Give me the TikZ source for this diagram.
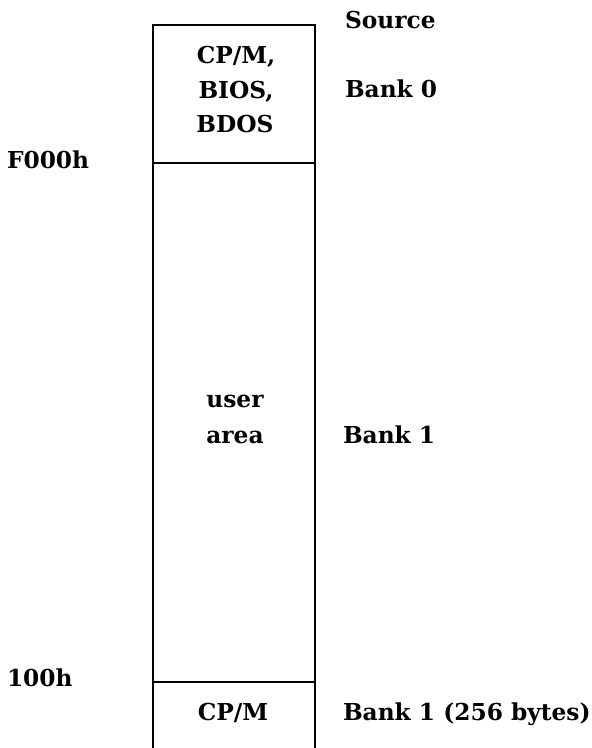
\documentclass[tikz,border=0pt]{standalone}
\usepackage{fontspec}
\setmainfont{DejaVu Serif}
\begin{document}
\begin{tikzpicture}[x=1pt,y=-1pt,
  lbl/.style={font=\fontsize{23.3pt}{28pt}\selectfont\bfseries, inner sep=0pt, outer sep=0pt},
  side/.style={lbl, anchor=base west},
  mid/.style={lbl, anchor=base},
  wall/.style={line width=1.3pt, black}]
\useasboundingbox (0,0) rectangle (592,748);
% memory column
\coordinate (tl) at (153,25);
\coordinate (tr) at (315,25);
\coordinate (bl) at (153,748);
\coordinate (br) at (315,748);
\coordinate (f0l) at (153,163);
\coordinate (f0r) at (315,163);
\coordinate (h1l) at (153,682);
\coordinate (h1r) at (315,682);
\draw[wall] (bl) -- (tl) -- (tr) -- (br);
\draw[wall] (f0l) -- (f0r);
\draw[wall] (h1l) -- (h1r);
% labels inside
\node[mid] (c1) at (236,63) {CP/M,};
\node[mid] (c2) at (236,98) {BIOS,};
\node[mid] (c3) at (235,132) {BDOS};
\node[mid] (u1) at (235,407) {user};
\node[mid] (u2) at (235,443) {area};
\node[mid] (cpm) at (233,720) {CP/M};
% right labels
\node[side] (src) at (345,28) {Source};
\node[side] (b0) at (345,97) {Bank 0};
\node[side] (b1) at (343,443) {Bank 1};
\node[side] (b1b) at (343,720) {Bank 1 (256 bytes)};
% left labels
\node[side] (f000) at (7,168) {F000h};
\node[side] (h100) at (7,686) {100h};
\end{tikzpicture}
\end{document}
